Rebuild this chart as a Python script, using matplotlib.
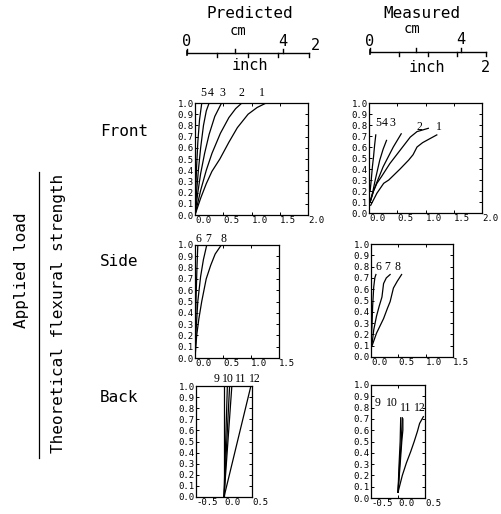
import matplotlib
matplotlib.use("Agg")
import matplotlib.pyplot as plt
from matplotlib.lines import Line2D
import numpy as np

W, H = 501, 514
MONO = "DejaVu Sans Mono"
SERIF = "Liberation Serif"

# ---------------- data (deflection in inches vs load ratio) ----------------
front_pred = {
    "1": ([0, 0.1, 0.2, 0.3, 0.44, 0.6, 0.75, 0.94, 1.1, 1.26],
          [0, 0.15, 0.28, 0.39, 0.5, 0.65, 0.78, 0.9, 0.96, 1.0]),
    "2": ([0, 0.1, 0.2, 0.3, 0.45, 0.6, 0.72, 0.83],
          [0, 0.22, 0.4, 0.55, 0.73, 0.87, 0.95, 1.0]),
    "3": ([0, 0.05, 0.1, 0.17, 0.25, 0.35, 0.47],
          [0, 0.2, 0.37, 0.55, 0.72, 0.88, 1.0]),
    "4": ([0, 0.03, 0.06, 0.1, 0.15, 0.2, 0.25],
          [0, 0.22, 0.4, 0.6, 0.8, 0.93, 1.0]),
    "5": ([0, 0.015, 0.03, 0.05, 0.08, 0.12],
          [0, 0.25, 0.45, 0.65, 0.85, 1.0]),
}
front_meas = {
    "1": ([0.03, 0.14, 0.26, 0.35, 0.45, 0.55, 0.7, 0.78, 0.85, 0.95, 1.2],
          [0.07, 0.18, 0.27, 0.30, 0.35, 0.40, 0.48, 0.53, 0.60, 0.64, 0.71]),
    "2": ([0.02, 0.08, 0.14, 0.22, 0.37, 0.55, 0.73, 0.85, 1.05],
          [0.1, 0.2, 0.27, 0.33, 0.45, 0.57, 0.69, 0.74, 0.77]),
    "3": ([0.02, 0.08, 0.14, 0.25, 0.35, 0.43, 0.57],
          [0.1, 0.2, 0.28, 0.42, 0.52, 0.6, 0.72]),
    "4": ([0.02, 0.07, 0.11, 0.19, 0.25, 0.31],
          [0.1, 0.2, 0.3, 0.48, 0.58, 0.66]),
    "5": ([0.0, 0.0, 0.02, 0.04, 0.06, 0.08, 0.1, 0.12],
          [0.08, 0.28, 0.2, 0.3, 0.42, 0.51, 0.62, 0.71]),
}
side_pred = {
    "6": ([0, 0.01, 0.02, 0.035, 0.05], [0, 0.3, 0.55, 0.8, 1.0]),
    "7": ([0, 0.02, 0.05, 0.1, 0.15, 0.21], [0, 0.25, 0.5, 0.72, 0.87, 1.0]),
    "8": ([0, 0.03, 0.07, 0.12, 0.2, 0.28, 0.36, 0.47],
          [0, 0.2, 0.35, 0.5, 0.7, 0.82, 0.92, 1.0]),
}
side_meas = {
    "6": ([0.0, 0.02, 0.03, 0.05, 0.07, 0.09], [0.1, 0.3, 0.45, 0.62, 0.7, 0.73]),
    "7": ([0.02, 0.05, 0.1, 0.15, 0.2, 0.23, 0.28, 0.35],
          [0.12, 0.24, 0.36, 0.45, 0.53, 0.65, 0.7, 0.73]),
    "8": ([0.02, 0.1, 0.16, 0.23, 0.3, 0.35, 0.41, 0.48, 0.56],
          [0.1, 0.21, 0.27, 0.34, 0.43, 0.49, 0.61, 0.67, 0.73]),
}
back_pred = {
    "9": ([0, 0.0], [0, 1.0]),
    "10": ([0, 0.06], [0, 1.0]),
    "10b": ([0, 0.1], [0, 1.0]),
    "11": ([0, 0.14], [0, 1.0]),
    "12": ([0, 0.48], [0, 1.0]),
}
back_meas = {
    "9": ([0.0, 0.02, 0.04, 0.05], [0.05, 0.3, 0.5, 0.71]),
    "10": ([0.0, 0.03, 0.06, 0.08], [0.05, 0.3, 0.5, 0.71]),
    "11": ([0.0, 0.04, 0.07, 0.09, 0.09], [0.05, 0.3, 0.5, 0.6, 0.70]),
    "12": ([0.0, 0.08, 0.155, 0.235, 0.30, 0.36, 0.40, 0.47],
           [0.05, 0.2, 0.31, 0.41, 0.50, 0.59, 0.66, 0.72]),
}

# curve number label positions (data coords)
labels_front_pred = {"5": (0.14, 1.09), "4": (0.27, 1.09), "3": (0.48, 1.09),
                     "2": (0.83, 1.09), "1": (1.19, 1.09)}
labels_front_meas = {"5": (0.16, 0.82), "4": (0.28, 0.82), "3": (0.42, 0.82),
                     "2": (0.9, 0.78), "1": (1.24, 0.78)}
labels_side_pred = {"6": (0.07, 1.05), "7": (0.23, 1.05), "8": (0.5, 1.05)}
labels_side_meas = {"6": (0.13, 0.80), "7": (0.29, 0.80), "8": (0.48, 0.80)}
labels_back_pred = {"9": (-0.125, 1.06), "10": (0.07, 1.06), "11": (0.29, 1.06),
                    "12": (0.55, 1.06)}
labels_back_meas = {"9": (-0.37, 0.84), "10": (-0.11, 0.84), "11": (0.15, 0.80),
                    "12": (0.41, 0.80)}

yticks = [round(0.1 * i, 1) for i in range(11)]

fig = plt.figure(figsize=(W / 100, H / 100), dpi=100)


def fx(x):
    return x / W


def fy(y):
    return 1 - y / H


def make_ax(x0, x1, y0, y1, xlim, xt, curves, labels):
    ax = fig.add_axes([fx(x0), fy(y1), (x1 - x0) / W, (y1 - y0) / H])
    for k, (xs, ys) in curves.items():
        ax.plot(xs, ys, color="black", lw=0.9)
    ax.set_xlim(*xlim)
    ax.set_ylim(0, 1)
    ax.set_yticks(yticks)
    ax.set_yticklabels([f"{v:.1f}" for v in yticks])
    ax.set_xticks(xt)
    ax.set_xticklabels([f"{v:.1f}" for v in xt])
    ax.tick_params(direction="in", length=2.5, width=0.7, top=True, right=True,
                   labelsize=6.5, pad=1)
    for lab in ax.get_xticklabels() + ax.get_yticklabels():
        lab.set_fontfamily(MONO)
    for lab in ax.get_xticklabels():
        lab.set_ha("left")
    for s in ax.spines.values():
        s.set_linewidth(0.9)
    for t, (lx, ly) in labels.items():
        ax.text(lx, ly, t, ha="center", va="center", fontsize=8.5,
                family=SERIF, clip_on=False)
    return ax


make_ax(195, 308, 103, 215, (0, 2.0), [0, 0.5, 1.0, 1.5, 2.0], front_pred, labels_front_pred)
make_ax(369, 482, 103, 213, (0, 2.0), [0, 0.5, 1.0, 1.5, 2.0], front_meas, labels_front_meas)
make_ax(195, 279, 245, 358, (0, 1.5), [0, 0.5, 1.0, 1.5], side_pred, labels_side_pred)
make_ax(371, 453, 244, 357, (0, 1.5), [0, 0.5, 1.0, 1.5], side_meas, labels_side_meas)
make_ax(196, 252, 386, 497, (-0.5, 0.5), [-0.5, 0.0, 0.5], back_pred, labels_back_pred)
make_ax(371, 425, 385, 498, (-0.5, 0.5), [-0.5, 0.0, 0.5], back_meas, labels_back_meas)

# ---------------- scale bars ----------------
cm_marks = [0, 2, 4]
inch_marks = [0.5, 1.0, 1.5, 2.0]


def scale_bar(x0px, pxcm, ypx, two_below):
    # axes in pixel-like coordinates: x = cm, y = pixel row
    ax = fig.add_axes([0, 0, 1, 1], facecolor="none")
    ax.set_xlim(-x0px / pxcm, (W - x0px) / pxcm)
    ax.set_ylim(H, 0)
    ax.axis("off")
    end = 2.0 * 2.54
    ax.plot([0, end], [ypx, ypx], color="black", lw=1.0)
    for c in cm_marks:
        ax.plot([c, c], [ypx, ypx - 4], color="black", lw=1.0)
    for i in inch_marks:
        ax.plot([i * 2.54, i * 2.54], [ypx, ypx + 4], color="black", lw=1.0)
    ax.plot([0, 0], [ypx - 2, ypx + 2], color="black", lw=1.2)
    ax.text(0, ypx - 11, "0", ha="center", va="center", fontsize=11, family=MONO)
    ax.text(4, ypx - 12, "4", ha="center", va="center", fontsize=11, family=MONO)
    if two_below:
        ax.text(end, ypx + 16, "2", ha="center", va="center", fontsize=11, family=MONO)
    else:
        ax.text(end + 0.1, ypx - 7, "2", ha="left", va="center", fontsize=11, family=MONO)
    return ax


scale_bar(187, 24.0, 53, False)
scale_bar(370, 22.8, 52, True)

# ---------------- figure texts ----------------
fig.text(fx(250), fy(13), "Predicted", ha="center", va="center", fontsize=11.5, family=MONO)
fig.text(fx(422), fy(13), "Measured", ha="center", va="center", fontsize=11.5, family=MONO)
fig.text(fx(238), fy(31), "cm", ha="center", va="center", fontsize=10, family=MONO)
fig.text(fx(412), fy(29), "cm", ha="center", va="center", fontsize=10, family=MONO)
fig.text(fx(250), fy(66), "inch", ha="center", va="center", fontsize=11, family=MONO)
fig.text(fx(427), fy(67), "inch", ha="center", va="center", fontsize=11, family=MONO)

for name, yy in [("Front", 132), ("Side", 262), ("Back", 397)]:
    fig.text(fx(100), fy(yy), name, ha="left", va="center", fontsize=11.5, family=MONO)

fig.text(fx(22), fy(270), "Applied load", rotation=90, ha="center", va="center",
         fontsize=11.5, family=MONO)
fig.text(fx(58), fy(313), "Theoretical flexural strength", rotation=90, ha="center",
         va="center", fontsize=11.5, family=MONO)
fig.add_artist(Line2D([fx(39), fx(39)], [fy(172), fy(458)], color="black", lw=0.9))

fig.savefig("out.png", dpi=100)
